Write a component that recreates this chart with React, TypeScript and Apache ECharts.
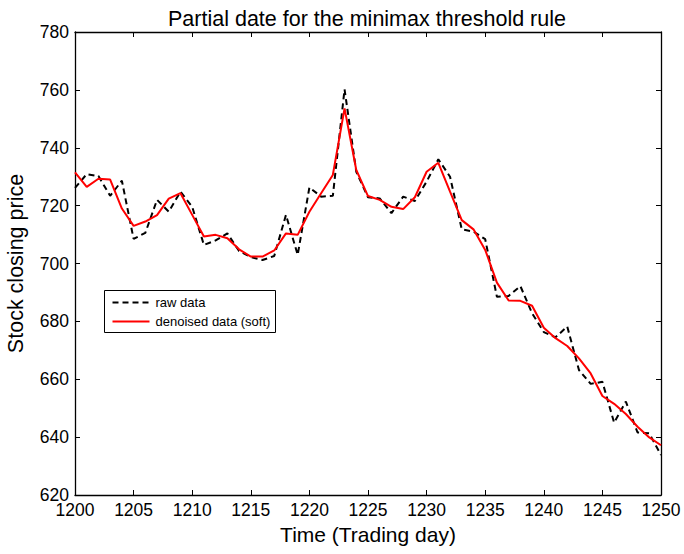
import React, { useEffect, useRef } from "react";
import * as echarts from "echarts";

// Trading days 1200..1250
const days: number[] = Array.from({ length: 51 }, (_, i) => 1200 + i);

const rawPrices: number[] = [
  726.1, 730.9, 730.2, 723.4, 728.6, 708.5, 710.6, 722.0, 717.9, 724.8,
  719.6, 706.4, 708.0, 710.4, 704.3, 702.2, 701.2, 702.6, 716.8, 703.0,
  726.3, 723.1, 723.4, 760.2, 731.7, 722.9, 722.5, 717.4, 723.1, 721.6,
  728.3, 736.0, 730.0, 711.8, 711.0, 708.4, 688.5, 688.8, 692.2, 682.8,
  676.3, 674.5, 678.2, 663.2, 658.4, 659.1, 645.0, 652.3, 641.6, 641.3,
  633.8,
];

const denoisedPrices: number[] = [
  731.5, 726.5, 729.3, 729.0, 719.0, 713.0, 714.5, 716.7, 722.4, 724.3,
  716.8, 709.3, 709.9, 708.7, 704.9, 702.4, 702.4, 704.5, 710.4, 709.9,
  717.9, 724.3, 730.6, 753.6, 732.3, 723.3, 722.0, 719.6, 718.8, 722.9,
  731.7, 734.8, 724.8, 715.0, 711.8, 704.7, 693.4, 687.2, 687.1, 685.4,
  677.8, 674.2, 671.5, 667.2, 662.0, 654.2, 651.5, 648.0, 643.6, 639.9,
  637.2,
];

const xTicks = { min: 1200, max: 1250, interval: 5 };
const yTicks = { min: 620, max: 780, interval: 20 };

const seriesNames = ["raw data", "denoised data (soft)"];
const RAW_COLOR = "#000000";
const DENOISED_COLOR = "#ff0000";
const DASH = [6, 4];

const FONT = "Liberation Sans, Arial, sans-serif";

export default function App() {
  const ref = useRef<HTMLDivElement>(null);

  useEffect(() => {
    if (!ref.current) return;
    const chart = echarts.init(ref.current, undefined, { renderer: "svg" });

    const frameAxis = {
      axisLine: { show: true, lineStyle: { color: "#000", width: 1.3 } },
      axisTick: { show: true, inside: true, length: 5, lineStyle: { color: "#000", width: 1 } },
      splitLine: { show: false },
    };

    const legendBox = { x: 104, y: 290, w: 171, h: 42 };

    chart.setOption({
      animation: false,
      backgroundColor: "#fff",
      textStyle: { fontFamily: FONT },
      title: {
        text: "Partial date for the minimax threshold rule",
        left: 362,
        textAlign: "center",
        top: 3,
        textStyle: { fontFamily: FONT, fontSize: 21.5, fontWeight: "normal", color: "#000" },
      },
      grid: { left: 75, right: 23, top: 32, bottom: 59, outerBoundsMode: "none", containLabel: false },
      xAxis: [
        {
          type: "value",
          position: "bottom",
          ...xTicks,
          name: "Time (Trading day)",
          nameLocation: "middle",
          nameGap: 29,
          nameTextStyle: { fontFamily: FONT, fontSize: 21, color: "#000" },
          axisLabel: {
            fontFamily: FONT,
            fontSize: 17.5,
            lineHeight: 16,
            color: "#000",
            margin: 7,
            formatter: (v: number) => String(v),
          },
          ...frameAxis,
        },
        {
          type: "value",
          position: "top",
          ...xTicks,
          axisLabel: { show: false },
          ...frameAxis,
        },
      ],
      yAxis: [
        {
          type: "value",
          position: "left",
          ...yTicks,
          name: "Stock closing price",
          nameLocation: "middle",
          nameGap: 48,
          nameTextStyle: { fontFamily: FONT, fontSize: 21.5, color: "#000" },
          axisLabel: { fontFamily: FONT, fontSize: 17.5, lineHeight: 13, color: "#000", margin: 6 },
          ...frameAxis,
        },
        {
          type: "value",
          position: "right",
          ...yTicks,
          axisLabel: { show: false },
          ...frameAxis,
        },
      ],
      graphic: [
        {
          type: "group",
          left: legendBox.x,
          top: legendBox.y,
          children: [
            {
              type: "rect",
              shape: { x: 0, y: 0, width: legendBox.w, height: legendBox.h },
              style: { fill: "#fff", stroke: "#000", lineWidth: 1 },
            },
            {
              type: "line",
              shape: { x1: 8, y1: 12, x2: 45, y2: 12 },
              style: { stroke: RAW_COLOR, lineWidth: 2, lineDash: DASH },
            },
            {
              type: "text",
              x: 51,
              y: 12,
              style: {
                text: seriesNames[0],
                fontFamily: FONT,
                fontSize: 13,
                fill: "#000",
                verticalAlign: "middle",
              },
            },
            {
              type: "line",
              shape: { x1: 8, y1: 31, x2: 45, y2: 31 },
              style: { stroke: DENOISED_COLOR, lineWidth: 2 },
            },
            {
              type: "text",
              x: 51,
              y: 31,
              style: {
                text: seriesNames[1],
                fontFamily: FONT,
                fontSize: 13,
                fill: "#000",
                verticalAlign: "middle",
              },
            },
          ],
        },
      ],
      series: [
        {
          name: seriesNames[0],
          type: "line",
          data: days.map((d, i) => [d, rawPrices[i]]),
          showSymbol: false,
          symbol: "none",
          lineStyle: { color: RAW_COLOR, width: 2, type: DASH },
          z: 2,
        },
        {
          name: seriesNames[1],
          type: "line",
          data: days.map((d, i) => [d, denoisedPrices[i]]),
          showSymbol: false,
          symbol: "none",
          lineStyle: { color: DENOISED_COLOR, width: 2 },
          z: 3,
        },
      ],
    });

    return () => chart.dispose();
  }, []);

  return <div ref={ref} style={{ width: 684, height: 554, position: "absolute", left: 0, top: 0 }} />;
}
